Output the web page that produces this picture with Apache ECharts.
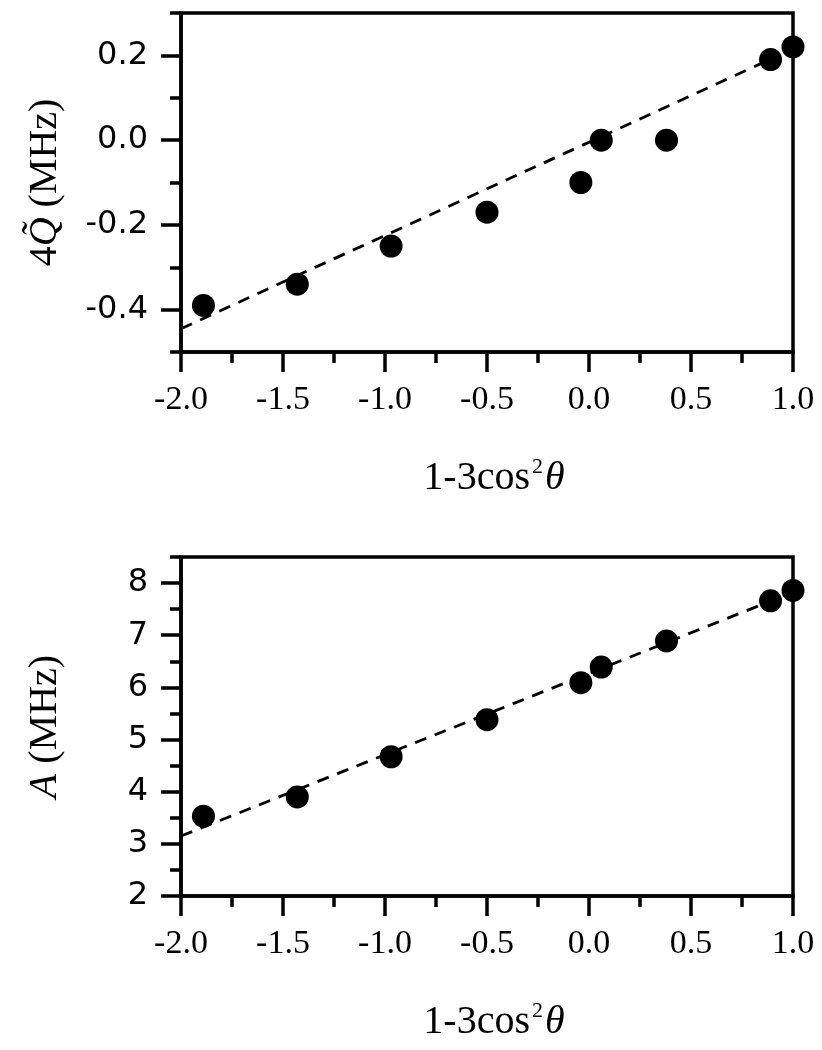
<!DOCTYPE html>
<html>
<head>
<meta charset="utf-8">
<script src="https://cdn.jsdelivr.net/npm/echarts@6/dist/echarts.min.js"></script>
<style>
html,body{margin:0;padding:0;background:#fff;}
#chart{width:822px;height:1050px;}
</style>
</head>
<body>
<div id="chart"></div>
<script>
// ---- data ----
const xValues = [-1.89, -1.43, -0.97, -0.50, -0.04, 0.06, 0.38, 0.89, 1.00];
const qValues = [-0.39, -0.34, -0.25, -0.17, -0.10, 0.00, 0.00, 0.19, 0.22];
const aValues = [3.53, 3.90, 4.67, 5.38, 6.09, 6.39, 6.89, 7.66, 7.86];
const fitX = [-2.0, 0.9];
const fitQ = [-0.445, 0.193];
const fitA = [3.15, 7.67];
const qMajorTicks = [-0.4, -0.2, 0.0, 0.2];
const qMinorTicks = [-0.5, -0.3, -0.1, 0.1, 0.3];
const aMajorTicks = [2, 3, 4, 5, 6, 7, 8];
const aMinorTicks = [2.5, 3.5, 4.5, 5.5, 6.5, 7.5, 8.5];

const pts = (xs, ys) => xs.map((x, i) => [x, ys[i]]);

const chart = echarts.init(document.getElementById('chart'), null, {renderer: 'canvas'});

const serif = '"Liberation Serif", "Times New Roman", serif';
const sans = '"DejaVu Sans", "Liberation Sans", Arial, sans-serif';
const lineW = 3.5;

function xAxisCfg(gridIndex) {
  return {
    type: 'value', gridIndex: gridIndex, min: -2, max: 1, interval: 0.5,
    position: 'bottom',
    axisLine: {show: true, onZero: false, lineStyle: {color: '#000', width: lineW}},
    axisTick: {show: true, inside: false, length: 20, lineStyle: {color: '#000', width: lineW}},
    minorTick: {show: true, splitNumber: 2, length: 11, lineStyle: {color: '#000', width: lineW}},
    splitLine: {show: false},
    axisLabel: {show: true, margin: 31, fontFamily: serif, fontSize: 34, color: '#000',
      formatter: v => v.toFixed(1)},
    name: '{t|1-3cos}{s|2}{th|θ}',
    nameLocation: 'middle', nameGap: 104,
    nameTextStyle: {
      padding: [0, 0, 0, 14],
      rich: {
        t: {fontFamily: serif, fontSize: 40, color: '#000', lineHeight: 44},
        s: {fontFamily: serif, fontSize: 22, color: '#000', lineHeight: 16, verticalAlign: 'top', padding: [0, 0, 0, 2]},
        th: {fontFamily: serif, fontSize: 40, fontStyle: 'italic', color: '#000', lineHeight: 44, padding: [0, 0, 0, 2]}
      }
    }
  };
}

function yAxisMain(gridIndex, min, max, interval, ticks, digits, name, nameRich) {
  return {
    type: 'value', gridIndex: gridIndex, min: min, max: max, interval: interval,
    position: 'left',
    axisLine: {show: true, onZero: false, lineStyle: {color: '#000', width: lineW}},
    axisTick: {show: true, inside: false, length: 20, customValues: ticks, lineStyle: {color: '#000', width: lineW}},
    splitLine: {show: false},
    axisLabel: {show: true, margin: 33, fontFamily: sans, fontSize: 32, color: '#000',
      customValues: ticks, formatter: v => Number(v).toFixed(digits)},
    name: name, nameLocation: 'middle', nameGap: 116, nameRotate: 90,
    nameTextStyle: {rich: nameRich}
  };
}

function yAxisMinor(gridIndex, min, max, interval, ticks) {
  return {
    type: 'value', gridIndex: gridIndex, min: min, max: max, interval: interval,
    position: 'left',
    axisLine: {show: false, onZero: false},
    axisTick: {show: true, inside: false, length: 11, customValues: ticks, lineStyle: {color: '#000', width: lineW}},
    splitLine: {show: false},
    axisLabel: {show: false}
  };
}

const richQ = {
  n: {fontFamily: serif, fontSize: 40, color: '#000'},
  q: {fontFamily: serif, fontSize: 40, fontStyle: 'italic', color: '#000'}
};
const richA = {
  n: {fontFamily: serif, fontSize: 40, color: '#000'},
  a: {fontFamily: serif, fontSize: 40, fontStyle: 'italic', color: '#000'}
};

const gridStyle = {show: true, borderColor: '#000', borderWidth: lineW, backgroundColor: 'transparent'};

const option = {
  backgroundColor: '#fff',
  animation: false,
  grid: [
    Object.assign({left: 181, top: 13, width: 612, height: 339}, gridStyle),
    Object.assign({left: 181, top: 557, width: 612, height: 339}, gridStyle)
  ],
  xAxis: [xAxisCfg(0), xAxisCfg(1)],
  yAxis: [
    yAxisMain(0, -0.5, 0.3, 0.1, qMajorTicks, 1, '{n|4}{q|Q\u0303}{n| (MHz)}', richQ),
    yAxisMinor(0, -0.5, 0.3, 0.1, qMinorTicks),
    yAxisMain(1, 2, 8.5, 0.5, aMajorTicks, 0, '{a|A}{n| (MHz)}', richA),
    yAxisMinor(1, 2, 8.5, 0.5, aMinorTicks)
  ],
  series: [
    {type: 'line', xAxisIndex: 0, yAxisIndex: 0, data: pts(fitX, fitQ), symbol: 'none',
      lineStyle: {color: '#000', width: 2.8, type: [12, 9]}, z: 2},
    {type: 'scatter', xAxisIndex: 0, yAxisIndex: 0, data: pts(xValues, qValues), symbol: 'circle',
      symbolSize: 23, itemStyle: {color: '#000', opacity: 1}, clip: false, z: 3},
    {type: 'line', xAxisIndex: 1, yAxisIndex: 2, data: pts(fitX, fitA), symbol: 'none',
      lineStyle: {color: '#000', width: 2.8, type: [12, 9]}, z: 2},
    {type: 'scatter', xAxisIndex: 1, yAxisIndex: 2, data: pts(xValues, aValues), symbol: 'circle',
      symbolSize: 23, itemStyle: {color: '#000', opacity: 1}, clip: false, z: 3}
  ]
};
chart.setOption(option);
</script>
</body>
</html>
